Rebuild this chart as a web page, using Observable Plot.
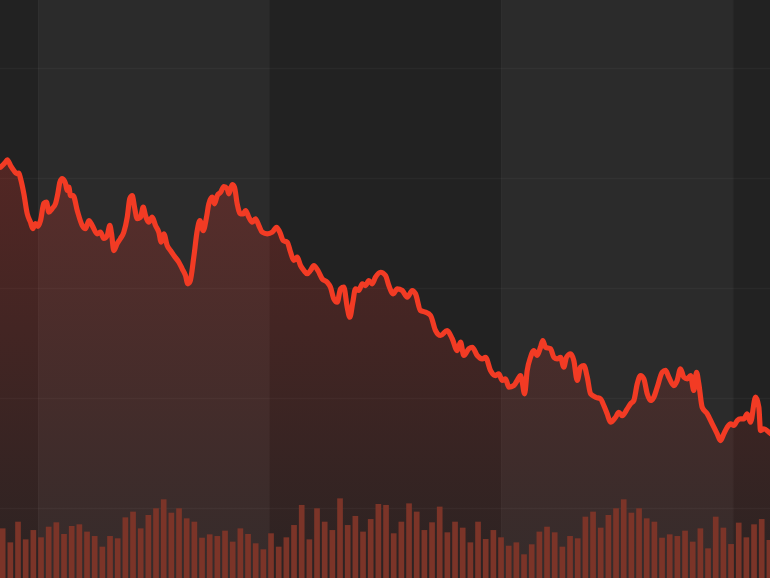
<!DOCTYPE html>
<html>
<head>
<meta charset="utf-8">
<script src="https://cdn.jsdelivr.net/npm/d3@7"></script>
<script src="https://cdn.jsdelivr.net/npm/@observablehq/plot@0.6"></script>
<style>
  html, body { margin: 0; padding: 0; background: #222222; }
  #wrap { position: relative; width: 770px; height: 578px; overflow: hidden; }
  #wrap svg { position: absolute; left: 0; top: 0; }
</style>
</head>
<body>
<div id="wrap"></div>
<script>
// ---- data ----
// price line: day (fractional) and price
const lineDays = [-0.35,0.30,0.53,0.96,1.39,1.74,2.04,2.26,2.69,3.13,3.56,3.86,4.22,4.52,4.87,5.30,5.65,5.95,6.39,6.83,7.13,7.39,7.70,8.13,8.35,8.56,8.78,9.13,9.66,10.31,10.74,11.17,11.61,12.26,12.69,13.13,13.57,13.91,14.13,14.43,14.87,15.30,15.73,16.18,16.52,16.83,17.13,17.48,17.91,18.26,18.56,18.99,19.44,19.87,20.30,20.61,20.95,21.39,21.82,22.26,22.91,23.35,23.78,24.08,24.37,24.86,25.31,25.65,26.09,26.52,26.82,27.26,27.56,27.92,28.35,28.78,29.22,29.43,29.87,30.17,30.52,30.95,31.31,31.61,32.04,32.48,32.91,33.34,33.79,34.44,35.09,35.65,36.08,36.52,37.05,37.48,37.91,38.35,38.78,39.21,39.65,40.08,40.52,41.04,41.61,42.26,42.69,43.12,43.57,44.00,44.43,44.87,45.21,45.60,45.95,46.38,46.83,47.26,47.69,48.13,48.56,49.21,49.87,50.30,50.87,51.39,52.05,52.70,53.35,53.78,54.43,55.08,55.74,56.39,57.04,57.91,58.57,59.22,59.65,60.08,60.73,61.18,61.83,62.48,62.91,63.56,64.21,64.64,65.09,65.52,65.95,66.60,67.04,67.47,67.70,68.00,68.35,68.78,69.21,69.65,70.08,70.38,70.74,71.39,71.82,72.26,72.69,73.12,73.47,74.00,74.43,74.87,75.30,75.73,76.18,76.61,77.26,77.91,78.34,78.78,79.21,79.87,80.30,80.74,81.39,81.82,82.25,82.70,83.13,83.56,84.00,84.43,84.86,85.31,85.96,86.39,86.82,87.47,87.91,88.34,88.77,89.22,89.65,90.08,90.43,90.73,91.17,91.83,92.48,93.13,93.56,93.99,94.44,94.87,95.30,95.74,96.17,96.60,97.04,97.47,98.13,98.56,98.78,99.21,99.86,100.08];
const linePrices = [131.03,131.48,131.70,131.18,130.73,130.45,130.48,130.00,128.64,126.82,126.03,125.45,125.91,125.64,126.18,127.73,127.85,126.94,127.27,127.73,128.64,129.66,130.00,129.55,128.91,129.21,128.45,128.45,127.09,125.73,125.43,126.18,125.73,124.97,125.12,124.55,124.82,125.73,125.00,123.45,124.09,124.55,125.12,126.48,128.18,128.45,127.39,126.36,126.48,127.39,126.64,126.03,126.48,125.73,125.12,124.21,124.97,123.91,123.45,123.00,122.39,121.79,121.18,120.43,120.64,122.85,125.27,126.18,125.27,126.48,127.70,128.30,127.70,128.45,128.75,129.27,129.06,128.61,129.45,129.21,127.70,126.79,126.79,127.09,126.48,126.03,126.34,125.73,125.12,124.97,125.12,125.57,125.12,124.36,124.21,123.30,122.55,122.85,122.09,121.64,121.34,121.64,122.09,121.64,120.88,120.57,120.12,119.06,118.75,119.97,120.12,118.30,117.39,118.75,119.97,119.82,120.43,120.27,120.73,120.43,121.03,121.48,121.18,120.27,119.52,119.97,119.82,119.21,119.82,119.52,118.00,117.85,117.55,116.18,115.73,116.18,115.43,114.36,115.12,113.91,114.52,114.66,113.91,113.61,113.75,112.55,112.09,112.25,111.64,111.79,111.03,111.18,111.64,112.09,111.48,110.43,112.55,113.75,114.36,113.91,114.66,115.27,114.66,114.52,113.75,113.61,113.75,112.85,113.75,114.06,113.45,111.64,112.85,113.00,111.94,110.43,110.12,109.97,109.36,108.61,107.85,108.30,108.75,108.45,109.06,109.52,109.82,111.34,112.09,111.79,110.43,109.82,110.12,111.03,112.39,112.55,111.94,111.18,111.64,112.70,111.94,111.79,112.09,110.73,112.39,111.34,109.21,108.61,107.70,106.79,106.18,106.79,107.39,107.70,107.55,108.00,108.15,108.15,108.61,107.85,110.12,109.21,107.09,107.25,106.94,106.82];
// daily volume bars (day 0..100)
const volumes = [56.4,40.5,64.0,43.9,54.5,46.2,58.3,63.3,50.0,59.1,61.0,52.7,47.7,35.6,47.7,45.1,68.9,75.4,56.4,71.6,79.2,89.4,74.2,79.2,67.8,64.0,45.8,49.6,47.7,53.8,41.3,56.4,50.0,39.4,32.6,50.8,35.6,46.2,60.2,83.0,43.9,79.2,64.0,54.5,90.5,60.2,70.5,52.7,67.0,84.1,83.0,50.8,64.0,84.8,75.4,54.5,63.3,81.1,51.9,64.0,57.2,40.5,64.0,44.3,54.5,46.2,36.7,40.5,26.9,38.3,52.7,58.3,51.9,35.6,47.7,45.1,69.7,75.4,57.2,71.6,79.2,89.4,74.2,79.2,67.8,64.0,45.8,49.6,47.7,53.8,41.3,56.4,33.7,69.7,57.2,38.6,62.9,46.2,61.0,67.0,43.2];
// month boundaries (in days) for alternating background bands
const monthStarts = [4.6, 34.75, 65.0, 95.25];
const gridPrices = [100, 110, 120, 130, 140];

const xDomain = [-0.35, 100.08];
const yDomain = [93.64, 146.18];

const priceData = lineDays.map((d, i) => ({day: d, price: linePrices[i]}));
const volData = volumes.map((v, i) => ({day: i, vol: v}));
const bands = [
  {start: monthStarts[0], end: monthStarts[1]},
  {start: monthStarts[2], end: monthStarts[3]}
];

const W = 770, H = 578;

const gradientDefs = () => {
  const defs = d3.create("svg:defs");
  const g = defs.append("linearGradient")
    .attr("id", "areaGrad")
    .attr("gradientUnits", "userSpaceOnUse")
    .attr("x1", 0).attr("x2", 0).attr("y1", 150).attr("y2", H);
  g.append("stop").attr("offset", "0%").attr("stop-color", "rgb(232,52,40)").attr("stop-opacity", 0.25);
  g.append("stop").attr("offset", "100%").attr("stop-color", "rgb(232,52,40)").attr("stop-opacity", 0.05);
  return defs.node();
};

const pricePlot = Plot.plot({
  width: W,
  height: H,
  margin: 0,
  style: {background: "#222222", overflow: "hidden"},
  x: {domain: xDomain, axis: null},
  y: {domain: yDomain, axis: null},
  marks: [
    gradientDefs,
    Plot.rect(bands, {x1: "start", x2: "end", fill: "#2b2b2b"}),
    Plot.ruleX(monthStarts, {stroke: "#ffffff", strokeOpacity: 0.02, strokeWidth: 1.5}),
    Plot.ruleY(gridPrices, {stroke: "#ffffff", strokeOpacity: 0.035, strokeWidth: 1.5}),
    Plot.areaY(priceData, {x: "day", y1: yDomain[0], y2: "price", fill: "url(#areaGrad)", curve: "monotone-x"}),
    Plot.line(priceData, {x: "day", y: "price", stroke: "#f23b24", strokeWidth: 5.2, strokeLinejoin: "round", strokeLinecap: "round", curve: "monotone-x"})
  ]
});

const volumePlot = Plot.plot({
  width: W,
  height: H,
  margin: 0,
  style: {background: "transparent"},
  x: {domain: xDomain, axis: null},
  y: {domain: [0, 100], range: [H, H - 88], axis: null},
  marks: [
    Plot.rect(volData, {x1: d => d.day - 0.37, x2: d => d.day + 0.37, y1: 0, y2: "vol", fill: "#7b3428", inset: 0})
  ]
});

const wrap = document.getElementById("wrap");
wrap.appendChild(pricePlot);
wrap.appendChild(volumePlot);
</script>
</body>
</html>
